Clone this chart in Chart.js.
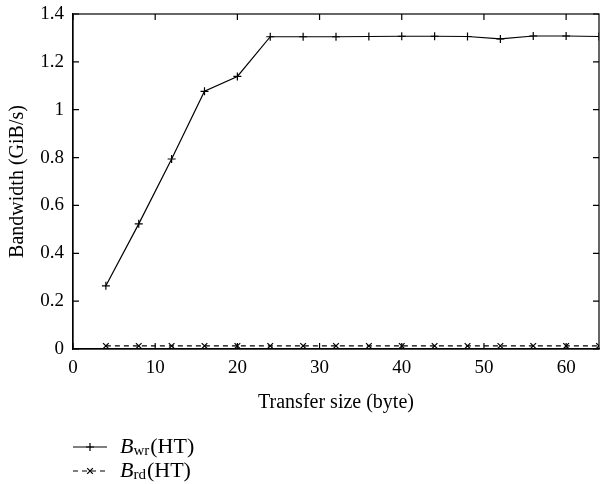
<!DOCTYPE html>
<html>
<head>
<meta charset="utf-8">
<script src="https://cdn.jsdelivr.net/npm/chart.js@4/dist/chart.umd.min.js"></script>
<style>
html,body{margin:0;padding:0;background:#fff;}
#wrap{width:600px;height:484px;position:relative;}
</style>
</head>
<body>
<div id="wrap"><canvas id="c" width="600" height="484"></canvas></div>
<script>
// ---- data ----
const transferSizes = [4, 8, 12, 16, 20, 24, 28, 32, 36, 40, 44, 48, 52, 56, 60, 64];
const bwWrite = [0.264, 0.523, 0.794, 1.077, 1.139, 1.305, 1.305, 1.305, 1.306, 1.307, 1.307, 1.306, 1.296, 1.308, 1.308, 1.306];
const bwRead  = [0.013, 0.013, 0.013, 0.013, 0.013, 0.013, 0.013, 0.013, 0.013, 0.013, 0.013, 0.013, 0.013, 0.013, 0.013, 0.013];
const xTicks = [0, 10, 20, 30, 40, 50, 60];
const yTicks = [0, 0.2, 0.4, 0.6, 0.8, 1, 1.2, 1.4];
const seriesNames = [["B", "wr", "(HT)"], ["B", "rd", "(HT)"]];

const FONT = "'Liberation Serif', 'DejaVu Serif', serif";
const TICK_FS = 19;
const TITLE_FS = 20;
const LEG_FS = 22;

const toPts = (ys) => transferSizes.map((x, i) => ({x: x, y: ys[i]}));

const frame = {
  id: 'frame',
  afterDatasetsDraw(chart) {
    const ctx = chart.ctx, a = chart.chartArea;
    const xs = chart.scales.x, ys = chart.scales.y;
    ctx.save();
    ctx.strokeStyle = '#000';
    ctx.lineWidth = 1.2;
    ctx.beginPath();
    const T = 6;
    xTicks.forEach(v => {
      const p = xs.getPixelForValue(v);
      ctx.moveTo(p, a.bottom); ctx.lineTo(p, a.bottom - T);
      ctx.moveTo(p, a.top); ctx.lineTo(p, a.top + T);
    });
    yTicks.forEach(v => {
      const p = ys.getPixelForValue(v);
      ctx.moveTo(a.left, p); ctx.lineTo(a.left + T, p);
      ctx.moveTo(a.right, p); ctx.lineTo(a.right - T, p);
    });
    ctx.stroke();
    ctx.strokeRect(a.left, a.top, a.right - a.left, a.bottom - a.top);
    ctx.restore();
  }
};

const legendPlugin = {
  id: 'customLegend',
  afterDraw(chart) {
    const ctx = chart.ctx;
    const x0 = 73, x1 = 107, tx = 120;
    const rows = [447, 471];
    chart.data.datasets.forEach((ds, i) => {
      const y = rows[i];
      ctx.save();
      ctx.strokeStyle = '#000';
      ctx.lineWidth = 1.2;
      ctx.setLineDash(ds.borderDash || []);
      ctx.beginPath(); ctx.moveTo(x0, y); ctx.lineTo(x1, y); ctx.stroke();
      ctx.setLineDash([]);
      Chart.helpers.drawPoint(ctx, {pointStyle: ds.pointStyle, radius: 4, rotation: 0, borderWidth: 1.2}, (x0 + x1) / 2, y);
      ctx.fillStyle = '#000';
      ctx.textBaseline = 'middle';
      ctx.textAlign = 'left';
      const [b, sub, rest] = seriesNames[i];
      ctx.font = 'italic ' + LEG_FS + 'px ' + FONT;
      ctx.fillText(b, tx, y);
      let cx = tx + ctx.measureText(b).width;
      ctx.font = '15px ' + FONT;
      ctx.fillText(sub, cx, y + 4);
      cx += ctx.measureText(sub).width + 1;
      ctx.font = LEG_FS + 'px ' + FONT;
      ctx.fillText(rest, cx, y);
      ctx.restore();
    });
  }
};

new Chart(document.getElementById('c'), {
  type: 'line',
  data: {
    datasets: [
      {
        label: 'Bwr(HT)',
        data: toPts(bwWrite),
        borderColor: '#000',
        backgroundColor: '#000',
        borderWidth: 1.2,
        pointStyle: 'cross',
        pointRadius: 4,
        pointBorderWidth: 1.2,
        pointBorderColor: '#000',
        tension: 0,
        fill: false
      },
      {
        label: 'Brd(HT)',
        data: toPts(bwRead),
        borderColor: '#000',
        backgroundColor: '#000',
        borderWidth: 1.2,
        borderDash: [5, 4],
        pointStyle: 'crossRot',
        pointRadius: 4,
        pointBorderWidth: 1.2,
        pointBorderColor: '#000',
        tension: 0,
        fill: false
      }
    ]
  },
  options: {
    responsive: false,
    animation: false,
    layout: {autoPadding: false, padding: {left: 0, right: 1, top: 14, bottom: 65}},
    plugins: {legend: {display: false}, tooltip: {enabled: false}},
    scales: {
      x: {
        type: 'linear',
        min: 0, max: 64,
        afterFit: (s) => { s.height = 70; s.paddingRight = 0; s.paddingLeft = 0; },
        afterBuildTicks: (s) => { s.ticks = xTicks.map(v => ({value: v})); },
        grid: {display: false, drawTicks: false},
        border: {display: true, color: '#000', width: 1.2},
        ticks: {color: '#000', padding: 8, maxRotation: 0, font: {family: FONT, size: TICK_FS}},
        title: {display: true, text: 'Transfer size (byte)', color: '#000', font: {family: FONT, size: TITLE_FS}, padding: {top: 4, bottom: 4}}
      },
      y: {
        type: 'linear',
        min: 0, max: 1.4,
        afterFit: (s) => { s.width = 73; s.paddingTop = 0; s.paddingBottom = 0; },
        afterBuildTicks: (s) => { s.ticks = yTicks.map(v => ({value: v})); },
        grid: {display: false, drawTicks: false},
        border: {display: true, color: '#000', width: 1.2},
        ticks: {color: '#000', padding: 9, font: {family: FONT, size: TICK_FS}, callback: (v) => String(Math.round(v * 10) / 10)},
        title: {display: true, text: 'Bandwidth (GiB/s)', color: '#000', font: {family: FONT, size: TITLE_FS}, padding: {top: 6, bottom: 4}}
      }
    }
  },
  plugins: [frame, legendPlugin]
});
</script>
</body>
</html>
